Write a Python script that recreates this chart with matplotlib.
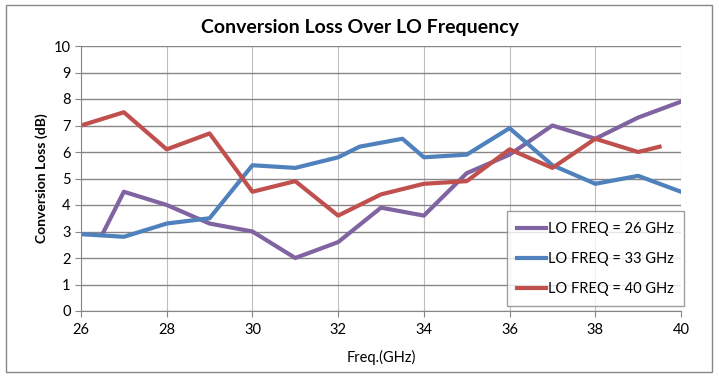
import matplotlib.pyplot as plt
from matplotlib.patches import Rectangle

# data
freq_26 = [26.5, 27, 28, 29, 30, 31, 32, 33, 34, 35, 36, 37, 38, 39, 40]
loss_26 = [2.9, 4.5, 4.0, 3.3, 3.0, 2.0, 2.6, 3.9, 3.6, 5.2, 5.9, 7.0, 6.5, 7.3, 7.9]

freq_33 = [26, 27, 28, 29, 30, 31, 32, 32.5, 33.5, 34, 35, 36, 37, 38, 39, 40]
loss_33 = [2.9, 2.8, 3.3, 3.5, 5.5, 5.4, 5.8, 6.2, 6.5, 5.8, 5.9, 6.9, 5.5, 4.8, 5.1, 4.5]

freq_40 = [26, 27, 28, 29, 30, 31, 32, 33, 34, 35, 36, 37, 38, 39, 39.5]
loss_40 = [7.0, 7.5, 6.1, 6.7, 4.5, 4.9, 3.6, 4.4, 4.8, 4.9, 6.1, 5.4, 6.5, 6.0, 6.2]

labels = ["LO FREQ = 26 GHz", "LO FREQ = 33 GHz", "LO FREQ = 40 GHz"]
colors = ["#8064A2", "#4F81BD", "#C0504D"]

plt.rcParams["font.family"] = ["Lato", "DejaVu Sans"]

fig = plt.figure(figsize=(7.19, 3.84), dpi=100)
ax = fig.add_axes([81 / 719, 1 - 311 / 384, 600 / 719, 265 / 384])

# outer chart border
fig.patches.append(Rectangle((6 / 719, 1 - 372 / 384), 706 / 719, 367 / 384,
                             transform=fig.transFigure, fill=False,
                             edgecolor="#868686", linewidth=1.0))

ax.plot(freq_26, loss_26, color=colors[0], linewidth=3, label=labels[0])
ax.plot(freq_33, loss_33, color=colors[1], linewidth=3, label=labels[1])
ax.plot(freq_40, loss_40, color=colors[2], linewidth=3, label=labels[2])

ax.set_xlim(26, 40)
ax.set_ylim(0, 10)
ax.set_xticks(range(26, 41, 2))
ax.set_yticks(range(0, 11))
ax.tick_params(axis="both", labelsize=10.5, length=4, color="#868686", direction="out")
ax.tick_params(axis="x", pad=5)

ax.grid(True, axis="y", color="#868686", linewidth=1.0)
ax.grid(True, axis="x", color="#BFBFBF", linewidth=0.8)
ax.set_axisbelow(True)
for side in ["top", "right"]:
    ax.spines[side].set_visible(False)
ax.spines["left"].set_color("#868686")
ax.spines["bottom"].set_color("#868686")

ax.set_xlabel("Freq.(GHz)", fontsize=10.5, labelpad=9)
ax.set_ylabel("Conversion Loss (dB)", fontsize=10, fontweight="bold")
fig.text(0.5, 1 - 27 / 384, "Conversion Loss Over LO Frequency",
         ha="center", va="center", fontsize=14, fontweight="bold")

leg = ax.legend(loc="lower right", bbox_to_anchor=(1.005, 0.019), borderaxespad=0,
                fontsize=10.5, frameon=True, fancybox=False, edgecolor="#868686",
                handlelength=2.0, handletextpad=0.1, labelspacing=1.1,
                borderpad=0.7)
leg.get_frame().set_linewidth(1.0)

fig.savefig("out.png", dpi=100)
